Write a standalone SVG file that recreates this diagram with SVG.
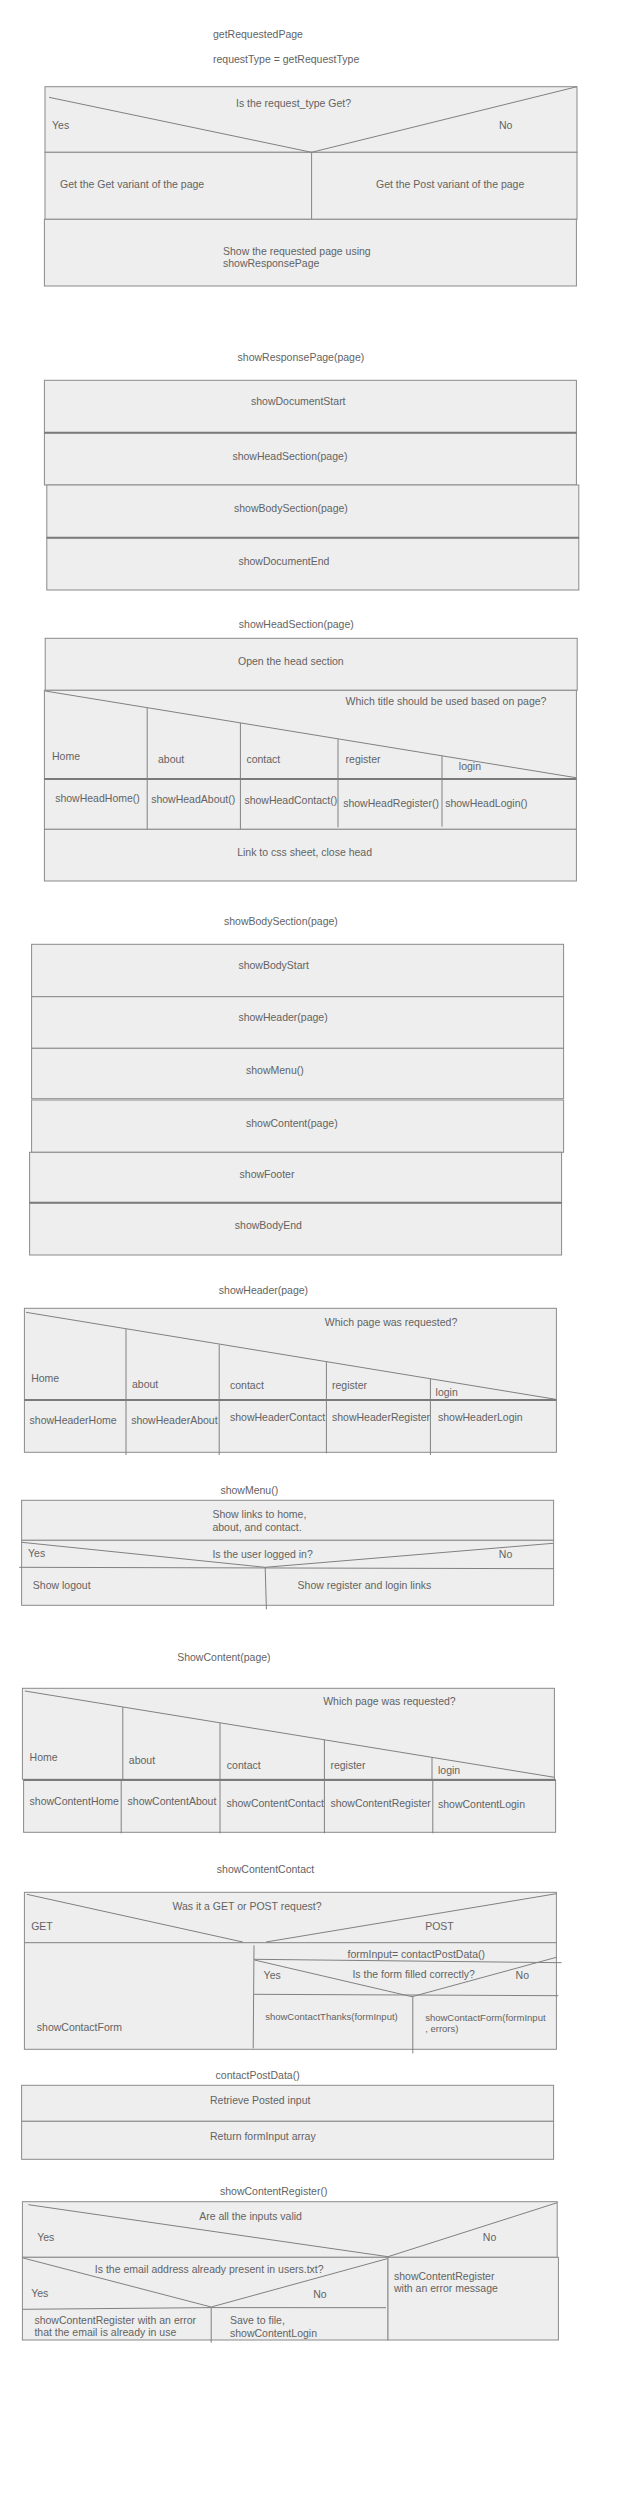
<svg xmlns="http://www.w3.org/2000/svg" width="625" height="2500" viewBox="0 0 625 2500">
<style>
.bg{fill:#ffffff}
.box{fill:#eeeeee;stroke:#8a8a8a;stroke-width:1}
.ln{fill:none;stroke:#808080;stroke-width:1}
.tk{fill:none;stroke:#7a7a7a;stroke-width:2}
text{font-family:"Liberation Sans",Arial,sans-serif;font-size:10.5px;fill:#636363}
.sm{font-size:9.5px}
</style>
<rect class="bg" x="0" y="0" width="625" height="2500"/>

<g id="getRequestedPage">
<text x="213" y="38">getRequestedPage</text>
<text x="213" y="63">requestType = getRequestType</text>
<rect class="box" x="45" y="86.7" width="532" height="65.6"/>
<rect class="box" x="45" y="152.3" width="266.6" height="67"/>
<rect class="box" x="311.6" y="152.3" width="265.4" height="67"/>
<rect class="box" x="44.4" y="219.3" width="532" height="66.7"/>
<polyline class="ln" points="49,97.3 311.6,152.3 577,86.7"/>
<text x="236" y="107">Is the request_type Get?</text>
<text x="52" y="129">Yes</text>
<text x="499" y="129">No</text>
<text x="60" y="188">Get the Get variant of the page</text>
<text x="376" y="188">Get the Post variant of the page</text>
<text x="223" y="254.5">Show the requested page using</text>
<text x="223" y="267">showResponsePage</text>
</g>

<g id="showResponsePage">
<text x="237.6" y="361">showResponsePage(page)</text>
<rect class="box" x="44.4" y="380.3" width="532" height="52.4"/>
<rect class="box" x="44.4" y="432.7" width="532" height="52.3"/>
<rect class="box" x="46.8" y="485" width="532" height="52.7"/>
<rect class="box" x="46.8" y="537.7" width="532" height="52.3"/>
<line class="tk" x1="44.4" y1="432.7" x2="576.4" y2="432.7"/>
<line class="tk" x1="46.8" y1="537.7" x2="578.8" y2="537.7"/>
<text x="251" y="405">showDocumentStart</text>
<text x="232.4" y="459.7">showHeadSection(page)</text>
<text x="234" y="511.7">showBodySection(page)</text>
<text x="238.4" y="565.4">showDocumentEnd</text>
</g>

<g id="showHeadSection">
<text x="238.8" y="628">showHeadSection(page)</text>
<rect class="box" x="45.2" y="638.3" width="532" height="52"/>
<text x="238" y="665.4">Open the head section</text>
<rect class="box" x="44.4" y="690.3" width="532" height="88.7"/>
<rect class="box" x="44.4" y="779" width="532" height="50.3"/>
<rect class="box" x="44.4" y="829.3" width="532" height="51.7"/>
<line class="ln" x1="45.2" y1="691" x2="576" y2="777.7"/>
<line class="ln" x1="147.2" y1="708" x2="147.2" y2="829.3"/>
<line class="ln" x1="240.4" y1="723" x2="240.4" y2="829.3"/>
<line class="ln" x1="338" y1="739" x2="338" y2="827.3"/>
<line class="ln" x1="442" y1="756" x2="442" y2="826.7"/>
<line class="tk" x1="44.4" y1="779" x2="576.4" y2="779"/>
<text x="345.6" y="704.7">Which title should be used based on page?</text>
<text x="52" y="760.4">Home</text>
<text x="158" y="763">about</text>
<text x="246.4" y="763">contact</text>
<text x="345.6" y="763">register</text>
<text x="458.8" y="770.4">login</text>
<text x="55.2" y="802">showHeadHome()</text>
<text x="151.2" y="803">showHeadAbout()</text>
<text x="244.4" y="804.4">showHeadContact()</text>
<text x="343.2" y="806.7">showHeadRegister()</text>
<text x="445.2" y="806.7">showHeadLogin()</text>
<text x="237.2" y="856.4">Link to css sheet, close head</text>
</g>

<g id="showBodySection">
<text x="224" y="924.7">showBodySection(page)</text>
<rect class="box" x="31.6" y="944.3" width="532" height="52.4"/>
<rect class="box" x="31.6" y="996.7" width="532" height="51.6"/>
<rect class="box" x="31.6" y="1048.3" width="532" height="50.4"/>
<rect class="box" x="31.6" y="1100" width="532" height="52.3"/>
<rect class="box" x="29.6" y="1152.3" width="532" height="50.4"/>
<rect class="box" x="29.6" y="1202.7" width="532" height="52.3"/>
<line class="tk" x1="29.6" y1="1202.7" x2="561.6" y2="1202.7"/>
<text x="238.4" y="968.7">showBodyStart</text>
<text x="238.4" y="1021.4">showHeader(page)</text>
<text x="246" y="1073.7">showMenu()</text>
<text x="246" y="1127">showContent(page)</text>
<text x="239.6" y="1178">showFooter</text>
<text x="234.8" y="1228.7">showBodyEnd</text>
</g>

<g id="showHeader">
<text x="218.8" y="1294">showHeader(page)</text>
<rect class="box" x="24.4" y="1308.3" width="532" height="91.7"/>
<line class="ln" x1="26" y1="1312.3" x2="555.6" y2="1399.3"/>
<rect class="box" x="24.4" y="1400" width="532" height="52.3"/>
<line class="tk" x1="24.4" y1="1400" x2="556.4" y2="1400"/>
<line class="ln" x1="126" y1="1329" x2="126" y2="1455"/>
<line class="ln" x1="219.2" y1="1344.5" x2="219.2" y2="1455"/>
<line class="ln" x1="326.4" y1="1362" x2="326.4" y2="1453.3"/>
<line class="ln" x1="430.4" y1="1379" x2="430.4" y2="1455"/>
<text x="324.8" y="1326">Which page was requested?</text>
<text x="31.2" y="1381.7">Home</text>
<text x="132" y="1388">about</text>
<text x="230" y="1388.7">contact</text>
<text x="332" y="1388.7">register</text>
<text x="435.6" y="1395.7">login</text>
<text x="29.6" y="1423.7">showHeaderHome</text>
<text x="131.2" y="1423.7">showHeaderAbout</text>
<text x="230" y="1421.4">showHeaderContact</text>
<text x="332" y="1421.4">showHeaderRegister</text>
<text x="438" y="1421.4">showHeaderLogin</text>
</g>

<g id="showMenu">
<text x="220.4" y="1493.7">showMenu()</text>
<rect class="box" x="21.6" y="1500.3" width="532" height="40"/>
<rect class="box" x="21.6" y="1540.3" width="532" height="65"/>
<polyline class="ln" points="21.6,1542.3 265.2,1567.3 553.2,1543.3"/>
<line class="ln" x1="19.2" y1="1567.3" x2="553.6" y2="1568.7"/>
<line class="ln" x1="265.2" y1="1567.3" x2="266.4" y2="1609.3"/>
<text x="212.4" y="1518">Show links to home,</text>
<text x="212.4" y="1530.7">about, and contact.</text>
<text x="28" y="1557">Yes</text>
<text x="212.4" y="1557.7">Is the user logged in?</text>
<text x="498.8" y="1557.7">No</text>
<text x="32.8" y="1589">Show logout</text>
<text x="297.6" y="1589">Show register and login links</text>
</g>

<g id="showContent">
<text x="177.2" y="1661">ShowContent(page)</text>
<rect class="box" x="22.4" y="1688.3" width="532" height="91"/>
<line class="ln" x1="24.8" y1="1691" x2="554.4" y2="1777.3"/>
<line class="ln" x1="122.8" y1="1707" x2="122.8" y2="1780"/>
<line class="ln" x1="220" y1="1723" x2="220" y2="1780"/>
<line class="ln" x1="324.4" y1="1740" x2="324.4" y2="1780"/>
<line class="ln" x1="432" y1="1757.5" x2="432" y2="1780"/>
<rect class="box" x="23.6" y="1780" width="532" height="52.3"/>
<line class="tk" x1="23.6" y1="1780" x2="555.6" y2="1780"/>
<line class="ln" x1="121.2" y1="1780" x2="121.2" y2="1833.3"/>
<line class="ln" x1="220" y1="1780" x2="220" y2="1833.3"/>
<line class="ln" x1="324.4" y1="1780" x2="324.4" y2="1833.3"/>
<line class="ln" x1="432.8" y1="1780" x2="432.8" y2="1833.3"/>
<text x="323.2" y="1705.4">Which page was requested?</text>
<text x="29.6" y="1761">Home</text>
<text x="128.8" y="1763.7">about</text>
<text x="226.8" y="1769">contact</text>
<text x="330.4" y="1769">register</text>
<text x="438" y="1773.7">login</text>
<text x="29.6" y="1805.4">showContentHome</text>
<text x="127.6" y="1805">showContentAbout</text>
<text x="226.4" y="1807">showContentContact</text>
<text x="330.4" y="1807">showContentRegister</text>
<text x="438" y="1807.7">showContentLogin</text>
</g>

<g id="showContentContact">
<text x="216.8" y="1872.7">showContentContact</text>
<rect class="box" x="24.4" y="1892.3" width="532" height="157"/>
<line class="ln" x1="26.8" y1="1894.3" x2="242.8" y2="1942"/>
<line class="ln" x1="266" y1="1942" x2="556.4" y2="1893.7"/>
<line class="ln" x1="24.4" y1="1942.7" x2="556.4" y2="1942.7"/>
<line class="ln" x1="254" y1="1945.3" x2="253.2" y2="2048.3"/>
<line class="ln" x1="254" y1="1959.3" x2="561.6" y2="1962.7"/>
<polyline class="ln" points="254.4,1960 412,1996.7 556.4,1957.3"/>
<line class="ln" x1="254" y1="1994.3" x2="558.4" y2="1995.7"/>
<line class="ln" x1="412.8" y1="1996.7" x2="412.8" y2="2053.3"/>
<text x="172.4" y="1909.7">Was it a GET or POST request?</text>
<text x="31.2" y="1930.4">GET</text>
<text x="425.2" y="1929.7">POST</text>
<text x="347.6" y="1957.7">formInput= contactPostData()</text>
<text x="263.6" y="1978.7">Yes</text>
<text x="352.4" y="1978.4">Is the form filled correctly?</text>
<text x="515.6" y="1979">No</text>
<text class="sm" x="265.2" y="2019.5">showContactThanks(formInput)</text>
<text class="sm" x="425.2" y="2020.8">showContactForm(formInput</text>
<text class="sm" x="425.2" y="2032.2">, errors)</text>
<text x="36.8" y="2031.4">showContactForm</text>
</g>

<g id="contactPostData">
<text x="215.6" y="2078.7">contactPostData()</text>
<rect class="box" x="21.6" y="2085.3" width="532" height="36"/>
<rect class="box" x="21.6" y="2121.3" width="532" height="38"/>
<text x="210" y="2104">Retrieve Posted input</text>
<text x="210" y="2140.4">Return formInput array</text>
</g>

<g id="showContentRegister">
<text x="220" y="2195.4">showContentRegister()</text>
<rect class="box" x="22.4" y="2201.7" width="534.8" height="55.6"/>
<polyline class="ln" points="28.4,2204.7 388,2256.7 557.2,2202.7"/>
<rect class="box" x="22.4" y="2257.3" width="365.6" height="82.7"/>
<rect class="box" x="388" y="2257.3" width="170.4" height="82.7"/>
<polyline class="ln" points="23.2,2258 211.2,2307 387.2,2258.7"/>
<polyline class="ln" points="22.4,2309.3 211.2,2307.6 386,2307.7"/>
<line class="ln" x1="211.2" y1="2307" x2="211.2" y2="2342.7"/>
<text x="199.2" y="2220.4">Are all the inputs valid</text>
<text x="37.2" y="2241">Yes</text>
<text x="482.8" y="2241">No</text>
<text x="94.8" y="2272.7">Is the email address already present in users.txt?</text>
<text x="31.2" y="2297">Yes</text>
<text x="313.2" y="2298">No</text>
<text x="34.4" y="2323.7">showContentRegister with an error</text>
<text x="34.4" y="2336">that the email is already in use</text>
<text x="230" y="2323.7">Save to file,</text>
<text x="230" y="2336.7">showContentLogin</text>
<text x="394" y="2279.7">showContentRegister</text>
<text x="394" y="2292.4">with an error message</text>
</g>
</svg>
